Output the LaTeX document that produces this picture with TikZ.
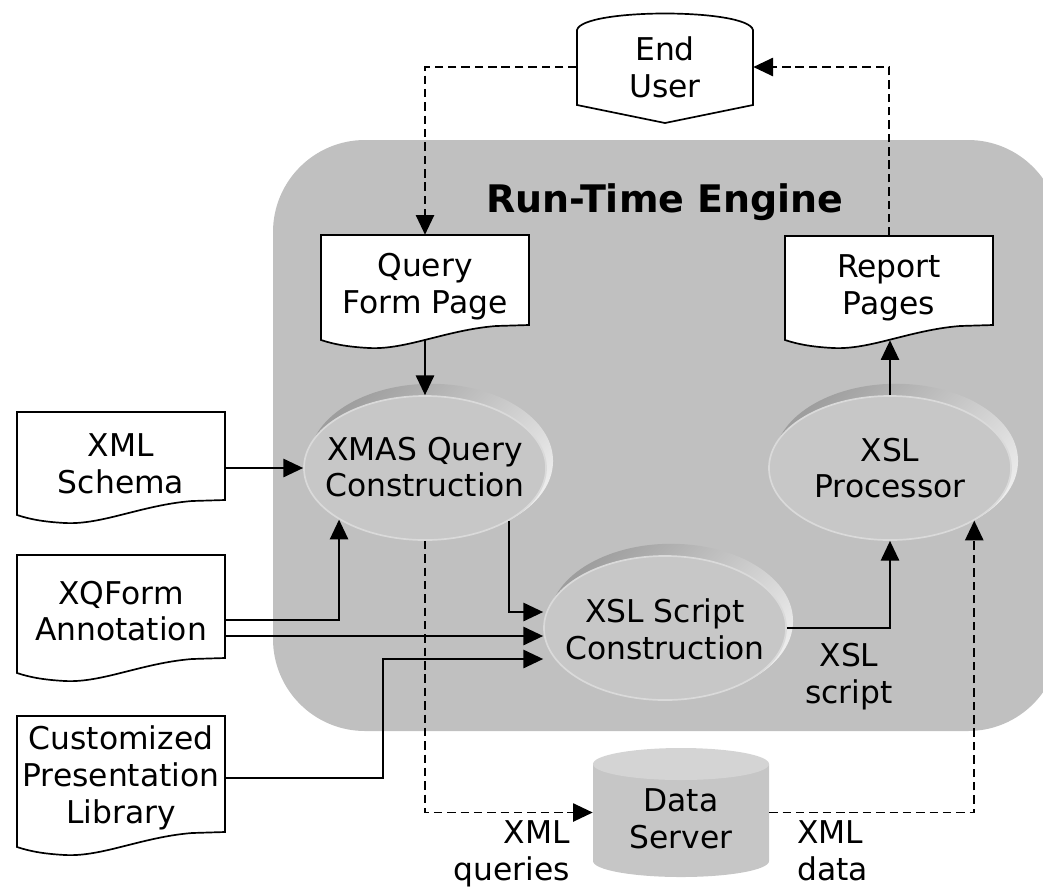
\documentclass[tikz,border=0pt]{standalone}
\usepackage{fontspec}
\setmainfont{DejaVu Sans}
\usetikzlibrary{arrows.meta,calc,shapes.geometric}
\definecolor{enginegray}{HTML}{C0C0C0}
\definecolor{discgray}{HTML}{C7C7C7}
\definecolor{discedge}{HTML}{DADADA}
\definecolor{rimdark}{HTML}{9E9E9E}
\definecolor{rimlight}{HTML}{EDEDED}
\definecolor{dbbody}{HTML}{C6C6C6}
\definecolor{dbtop}{HTML}{D4D4D4}
\tikzset{
  docline/.style={draw=black, line width=1.2pt, fill=white},
  docbox/.style={minimum width=5.2cm, inner sep=0pt, align=center},
  proc/.style={ellipse, minimum width=6.05cm, minimum height=3.6cm, inner sep=0pt,
    fill=discgray, draw=discedge, line width=1.2pt},
  rim/.style={top color=rimdark, bottom color=rimlight, shading angle=45},
  lbl/.style={align=center, inner sep=0pt},
  arr/.style={line width=1.2pt, -{Triangle[length=14pt,width=13pt]}},
  darr/.style={arr, dash pattern=on 6pt off 3.5pt},
}
\begin{document}
\begin{tikzpicture}[x=0.025cm, y=-0.025cm, font=\fontsize{22.3}{26.2}\selectfont]
    \useasboundingbox (0,0) rectangle (1043,889);
    %% engine
    \fill[enginegray, rounded corners=2.3cm] (273,140) rectangle (1060,731);
    \node[font=\fontsize{27}{31}\selectfont\bfseries] (title) at (665,202) {Run-Time Engine};

    %% end user
    \draw[docline] (577,30) .. controls (582,8) and (748,8) .. (753,30) -- (753,105) -- (665,123) -- (577,105) -- cycle;
    \node[minimum width=4.4cm, minimum height=1.9cm, inner sep=0pt, align=center] (user) at (665,67) {End\\User};

    %% pages
    \draw[docline, shift={(321,235)}] (0,0) -- (208,0) -- (208,90) -- (175,91) .. controls (125,95) and (85,115) .. (48,113) .. controls (30,112) and (15,110) .. (0,105) -- cycle;
    \node[docbox, minimum height=2.6cm] (qform) at (425,287) {Query\\Form Page};
    \draw[docline, shift={(785,236)}] (0,0) -- (208,0) -- (208,89) -- (175,90) .. controls (125,94) and (85,114) .. (48,112) .. controls (30,111) and (15,109) .. (0,104) -- cycle;
    \node[docbox, minimum height=2.6cm] (report) at (889,288) {Report\\Pages};

    %% inputs
    \draw[docline, shift={(17,412)}] (0,0) -- (208,0) -- (208,88) -- (175,89) .. controls (125,93) and (85,113) .. (48,111) .. controls (30,110) and (15,108) .. (0,103) -- cycle;
    \node[docbox, minimum height=2.6cm] (schema) at (121,464) {XML\\Schema};
    \draw[docline, shift={(17,555)}] (0,0) -- (208,0) -- (208,103) -- (175,104) .. controls (125,108) and (85,128) .. (48,126) .. controls (30,125) and (15,123) .. (0,118) -- cycle;
    \node[docbox, minimum height=2.95cm] (xqform) at (121,611) {XQForm\\Annotation};
    \draw[docline, shift={(17,716)}] (0,0) -- (208,0) -- (208,116) -- (175,117) .. controls (125,121) and (85,141) .. (48,139) .. controls (30,138) and (15,136) .. (0,131) -- cycle;
    \node[docbox, minimum height=3.3cm] (custom) at (121,778) {Customized\\Presentation\\Library};

    %% processes
    \shade[rim] (431,461) ellipse [x radius=3.05cm, y radius=1.93cm];
    \node[proc] (xmas) at (425,468) {};
    \node[lbl] (xmas-t) at (425,467) {XMAS Query\\Construction};
    \shade[rim] (671,621) ellipse [x radius=3.05cm, y radius=1.93cm];
    \node[proc] (xslscript) at (665,628) {};
    \node[lbl] (xslscript-t) at (665,629) {XSL Script\\Construction};
    \shade[rim] (896,461) ellipse [x radius=3.05cm, y radius=1.93cm];
    \node[proc] (xslproc) at (890,468) {};
    \node[lbl] (xslproc-t) at (890,468) {XSL\\Processor};

    %% data server
    \fill[dbbody] (593,764) -- (593,861) arc[start angle=180, end angle=360, x radius=2.2cm, y radius=0.4cm] -- (769,764) -- cycle;
    \fill[dbtop] (681,764) ellipse [x radius=2.2cm, y radius=0.4cm];
    \node[minimum width=4.4cm, minimum height=3.225cm, inner sep=0pt] (dbase) at (681,812.5) {};
    \node[lbl] (dbase-t) at (681,819) {Data\\Server};

    %% labels
    \node[lbl, anchor=north east, align=right] (lq) at (570,820) {XML\\queries};
    \node[lbl, anchor=north west, align=left] (ld) at (797,820) {XML\\data};
    \node[lbl] (ls) at (849,677) {XSL\\script};

    %% flows
    \coordinate (sin1) at ($(xslscript.west)+(0,-16)$);
    \coordinate (sin2) at ($(xslscript.west)+(0,8)$);
    \coordinate (sin3) at ($(xslscript.west)+(0,31)$);
    \draw[darr] (user.west) -| (qform.north);
    \draw[darr] (report.north) |- (user.east);
    \draw[arr] (qform.south) -- (xmas.north);
    \draw[arr] (xslproc.north) -- (xslproc.north |- report.south);
    \draw[arr] (schema.east |- xmas.west) -- (xmas.west);
    \draw[arr] ($(xqform.east)+(0,9)$) -| (xmas.211.5);
    \draw[arr] ($(xqform.east)+(0,25)$) -- (sin2);
    \draw[arr] (custom.east) -| ($(sin3)+(-160,0)$) -- (sin3);
    \draw[arr] (xmas.328.5) |- (sin1);
    \draw[arr] (xslscript.east) -| (xslproc.south);
    \draw[darr] (xmas.south) |- (dbase.west);
    \draw[darr] (dbase.east) -| (xslproc.328.5);
\end{tikzpicture}
\end{document}
